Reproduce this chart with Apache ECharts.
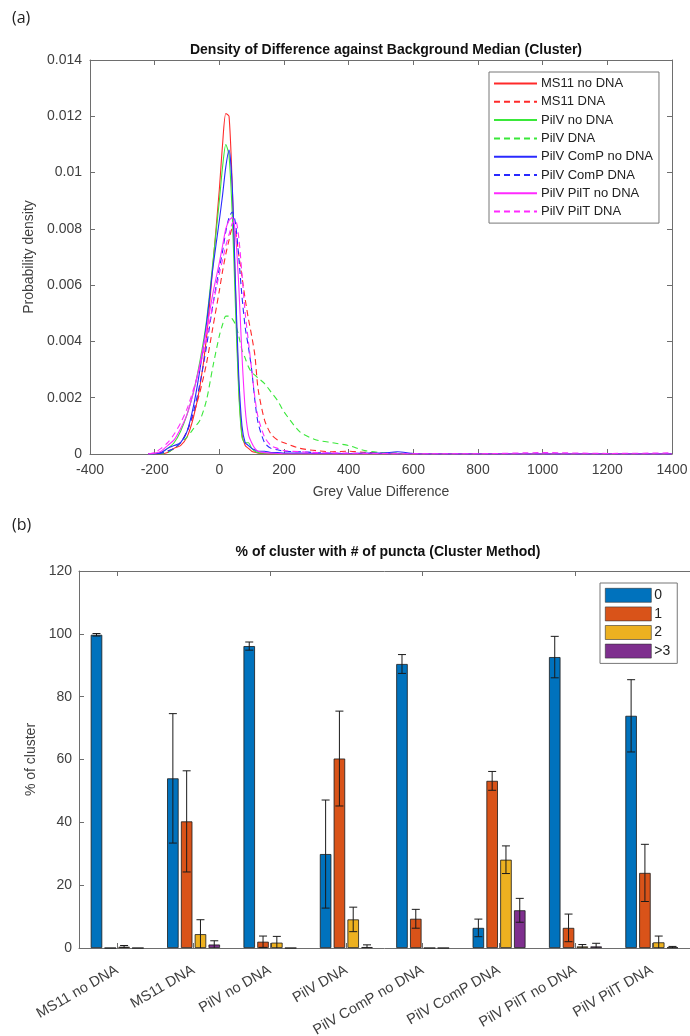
<!DOCTYPE html>
<html>
<head>
<meta charset="utf-8">
<script src="https://cdn.jsdelivr.net/npm/echarts@6/dist/echarts.min.js"></script>
<style>
html,body{margin:0;padding:0;background:#fff;}
#chart{width:690px;height:1036px;}
</style>
</head>
<body>
<div id="chart"></div>
<script>
// ---------- (a) density curves ----------
const greyValues = [-220,-200,-180,-160,-140,-120,-100,-80,-60,-40,-20,0,10,20,30,40,50,60,70,80,90,100,110,120,140,160,180,200,250,300,350,400,450,500,550,600,650,700,800,1000,1200,1400];

const ms11NoDna   = [0,0,0,0.00005,0.0002,0.0003,0.0006,0.0013,0.0024,0.0041,0.0067,0.0094,0.0110,0.0121,0.0120,0.0095,0.0058,0.0024,0.0007,0.0003,0.0002,0.0001,0.00006,0.00003,0.00001,0,0,0,0,0,0,0,0,0,0,0,0,0,0,0,0,0];
const ms11Dna     = [0,0,0.00003,0.0001,0.0002,0.0004,0.0008,0.0014,0.0022,0.0032,0.0045,0.0058,0.0065,0.0071,0.0076,0.0080,0.0079,0.0071,0.0063,0.0055,0.0048,0.0042,0.0035,0.0023,0.0012,0.0007,0.0005,0.0004,0.0002,0.00012,0.00008,0.0001,0.00006,0.00003,0.00002,0,0,0,0,0,0,0];
const pilvNoDna   = [0,0,0.00005,0.0002,0.0004,0.0008,0.0014,0.0022,0.0033,0.0047,0.0068,0.0090,0.0102,0.0110,0.0106,0.0085,0.0052,0.0022,0.0006,0.0004,0.0004,0.0002,0.0001,0.00005,0.00003,0.00002,0,0,0,0,0,0,0,0,0,0,0,0,0,0,0,0];
const pilvDna     = [0,0,0,0.00005,0.0002,0.0004,0.0006,0.0009,0.0012,0.0019,0.0031,0.0042,0.0046,0.0049,0.0049,0.0048,0.0046,0.0042,0.0037,0.0034,0.0031,0.0029,0.0028,0.0027,0.0025,0.0022,0.0019,0.0015,0.00078,0.0005,0.0004,0.0003,0.00012,0.00005,0.00003,0.00002,0,0,0,0,0,0];
const comPNoDna   = [0,0,0.00005,0.0002,0.0003,0.0004,0.0008,0.0017,0.0030,0.0046,0.0066,0.0083,0.0092,0.0102,0.0108,0.0095,0.0060,0.0028,0.0010,0.0004,0.0003,0.0002,0.00015,0.0001,0.0001,0.00005,0.00005,0.00003,0.00003,0.00002,0.00002,0.00002,0.00003,0.00003,0.00008,0.00002,0,0,0,0,0,0];
const comPDna     = [0,0,0.00003,0.0001,0.0002,0.0004,0.0008,0.0015,0.0025,0.0038,0.0053,0.0066,0.0072,0.0079,0.0084,0.0086,0.0082,0.0070,0.0056,0.0045,0.0038,0.0030,0.0019,0.0011,0.0004,0.0002,0.00015,0.0001,0.00008,0.00005,0.00003,0.00002,0.00002,0.00001,0,0,0,0,0,0,0,0];
const pilTNoDna   = [0,0.00003,0.0001,0.0003,0.0005,0.0009,0.0014,0.0022,0.0032,0.0044,0.0057,0.0068,0.0074,0.0080,0.0083,0.0084,0.0078,0.0060,0.0035,0.0016,0.0007,0.0004,0.0002,0.0001,0.00005,0.00003,0.00002,0,0,0,0,0,0,0,0,0,0,0,0,0,0,0];
const pilTDna     = [0,0.00005,0.0002,0.0004,0.0007,0.0011,0.0016,0.0023,0.0031,0.0041,0.0053,0.0064,0.0069,0.0074,0.0078,0.0082,0.0083,0.0077,0.0064,0.0050,0.0040,0.0030,0.0020,0.0013,0.0006,0.0003,0.0002,0.00012,0.00008,0.00005,0.00004,0.00003,0.00002,0.00002,0.00001,0.00001,0.00001,0.00001,0.00001,0.00005,0.00002,0.00004];

const densityNames = ['MS11 no DNA','MS11 DNA','PilV no DNA','PilV DNA','PilV ComP no DNA','PilV ComP DNA','PilV PilT no DNA','PilV PilT DNA'];
const densityData  = [ms11NoDna, ms11Dna, pilvNoDna, pilvDna, comPNoDna, comPDna, pilTNoDna, pilTDna];
const densityColors = ['#ff2a2a','#ff2a2a','#3ae83a','#3ae83a','#2a2aff','#2a2aff','#ff2aff','#ff2aff'];
const densityDashed = [false,true,false,true,false,true,false,true];

// ---------- (b) bar chart ----------
const categories = ['MS11 no DNA','MS11 DNA','PilV no DNA','PilV DNA','PilV ComP no DNA','PilV ComP DNA','PilV PilT no DNA','PilV PilT DNA'];
const punctaNames = ['0','1','2','>3'];
const puncta0 = [99.7, 54.0, 96.1, 29.9, 90.4, 6.4, 92.6, 73.9];
const puncta1 = [0, 40.3, 2.0, 60.3, 9.3, 53.2, 6.4, 23.9];
const puncta2 = [0.4, 4.4, 1.7, 9.1, 0, 28.1, 0.5, 1.8];
const puncta3 = [0, 1.1, 0, 0.3, 0, 12.0, 0.5, 0.2];
const err0 = [0.4, 20.6, 1.3, 17.2, 3.0, 2.8, 6.6, 11.5];
const err1 = [0, 16.1, 1.8, 15.1, 3.0, 3.0, 4.4, 9.1];
const err2 = [0.4, 4.6, 2.0, 3.9, 0, 4.4, 0.6, 2.0];
const err3 = [0, 1.2, 0, 0.7, 0, 3.8, 1.0, 0.3];
const barColors = ['#0072BD','#D95319','#EDB120','#7E2F8E'];

const punctaVals = [puncta0, puncta1, puncta2, puncta3];
const punctaErrs = [err0, err1, err2, err3];

const FONT = 'Liberation Sans, Arial, sans-serif';
const AX = '#6e6e6e';
const TXT = '#404040';
const BAR_W = 11.5, BAR_GAP = 2.3;

const chart = echarts.init(document.getElementById('chart'), null, {renderer:'canvas'});

const lineSeries = densityNames.map((n, i) => ({
  name: n, type: 'line', xAxisIndex: 0, yAxisIndex: 0,
  data: greyValues.map((x, j) => [x, densityData[i][j]]),
  symbol: 'none', smooth: 0.25,
  lineStyle: {color: densityColors[i], width: 1.1, type: densityDashed[i] ? [6, 4] : 'solid'},
  itemStyle: {color: densityColors[i]},
  z: 3
}));

const barSeries = punctaNames.map((n, k) => ({
  name: n, type: 'bar', xAxisIndex: 2, yAxisIndex: 2,
  data: punctaVals[k],
  barWidth: BAR_W, barGap: (BAR_GAP / BAR_W * 100) + '%',
  itemStyle: {color: barColors[k], borderColor: '#1a1a1a', borderWidth: 0.8},
  z: 2
}));

const errData = [];
punctaVals.forEach((vals, k) => {
  vals.forEach((v, i) => {
    const e = punctaErrs[k][i];
    if (e > 0) errData.push([i, v - e, v + e, k]);
  });
});

const errSeries = {
  type: 'custom', xAxisIndex: 2, yAxisIndex: 2, z: 5, clip: true,
  data: errData,
  renderItem: function (params, api) {
    const ci = api.value(0), lo = api.value(1), hi = api.value(2), k = api.value(3);
    const pLo = api.coord([ci, Math.max(lo, 0)]);
    const pHi = api.coord([ci, hi]);
    const x = pLo[0] + (k - 1.5) * (BAR_W + BAR_GAP);
    const cap = 4;
    const st = {stroke: '#1a1a1a', lineWidth: 1};
    const children = [
      {type: 'line', shape: {x1: x, y1: pLo[1], x2: x, y2: pHi[1]}, style: st},
      {type: 'line', shape: {x1: x - cap, y1: pHi[1], x2: x + cap, y2: pHi[1]}, style: st}
    ];
    if (lo >= 0) children.push({type: 'line', shape: {x1: x - cap, y1: pLo[1], x2: x + cap, y2: pLo[1]}, style: st});
    return {type: 'group', children: children};
  }
};

const tickCommon = {show: true, inside: true, length: 5, lineStyle: {color: AX}};
const labelCommon = {color: TXT, fontFamily: FONT, fontSize: 14};
const lineCommon = {show: true, onZero: false, lineStyle: {color: AX}};
const plainNum = v => String(v);

const option = {
  backgroundColor: '#fff',
  animation: false,
  title: [
    {text: '(a)', left: 7, top: 5, textStyle: {fontFamily: 'Open Sans, sans-serif', fontSize: 16, fontWeight: 'normal', color: '#222'}},
    {text: 'Density of Difference against Background Median (Cluster)', left: 381, top: 38, textAlign: 'center',
      textStyle: {fontFamily: FONT, fontSize: 14, fontWeight: 'bold', color: '#111'}},
    {text: '(b)', left: 7, top: 512, textStyle: {fontFamily: 'Open Sans, sans-serif', fontSize: 16, fontWeight: 'normal', color: '#222'}},
    {text: '% of cluster with # of puncta (Cluster Method)', left: 383, top: 540, textAlign: 'center',
      textStyle: {fontFamily: FONT, fontSize: 14, fontWeight: 'bold', color: '#111'}}
  ],
  legend: [
    {
      data: densityNames, orient: 'vertical', left: 489, top: 72,
      itemWidth: 43, itemHeight: 14, itemGap: 5.3,
      padding: [5, 6, 5, 4],
      borderColor: '#777', borderWidth: 1, backgroundColor: '#fff',
      textStyle: {fontFamily: FONT, fontSize: 13, color: '#222', padding: [0, 0, 0, -1]},
      itemStyle: {opacity: 0},
      selectedMode: false
    },
    {
      data: punctaNames, orient: 'vertical', left: 600, top: 583,
      itemWidth: 46, itemHeight: 14, itemGap: 4,
      padding: [5, 7, 5, 5],
      icon: 'rect',
      borderColor: '#777', borderWidth: 1, backgroundColor: '#fff',
      itemStyle: {borderWidth: 0.6, borderColor: '#333'},
      textStyle: {fontFamily: FONT, fontSize: 14, color: '#222', padding: [0, 0, 0, -2]},
      selectedMode: false
    }
  ],
  grid: [
    {left: 90, right: 18, top: 60, height: 394, outerBoundsMode: 'none', containLabel: false},
    {left: 79, right: 0, top: 571, height: 377, outerBoundsMode: 'none', containLabel: false}
  ],
  xAxis: [
    {type: 'value', gridIndex: 0, min: -400, max: 1400, interval: 200, position: 'bottom',
      name: 'Grey Value Difference', nameLocation: 'middle', nameGap: 31,
      nameTextStyle: {fontFamily: FONT, fontSize: 14, color: TXT},
      axisLine: lineCommon, axisTick: tickCommon,
      axisLabel: Object.assign({margin: 9, formatter: plainNum}, labelCommon), splitLine: {show: false}},
    {type: 'value', gridIndex: 0, min: -400, max: 1400, interval: 200, position: 'top',
      axisLine: lineCommon, axisTick: tickCommon,
      axisLabel: {show: false}, splitLine: {show: false}},
    {type: 'category', gridIndex: 1, data: categories, position: 'bottom',
      axisLine: lineCommon,
      axisTick: Object.assign({alignWithLabel: true}, tickCommon),
      axisLabel: Object.assign({}, labelCommon, {rotate: 30, margin: 21, interval: 0, fontSize: 14.5}),
      splitLine: {show: false}},
    {type: 'category', gridIndex: 1, data: categories, position: 'top',
      axisLine: lineCommon,
      axisTick: Object.assign({alignWithLabel: true}, tickCommon),
      axisLabel: {show: false}, splitLine: {show: false}}
  ],
  yAxis: [
    {type: 'value', gridIndex: 0, min: 0, max: 0.014, interval: 0.002, position: 'left',
      name: 'Probability density', nameLocation: 'middle', nameGap: 48,
      nameTextStyle: {fontFamily: FONT, fontSize: 14, color: TXT},
      axisLine: lineCommon, axisTick: tickCommon,
      axisLabel: Object.assign({margin: 8}, labelCommon), splitLine: {show: false}},
    {type: 'value', gridIndex: 0, min: 0, max: 0.014, interval: 0.002, position: 'right',
      axisLine: lineCommon, axisTick: tickCommon,
      axisLabel: {show: false}, splitLine: {show: false}},
    {type: 'value', gridIndex: 1, min: 0, max: 120, interval: 20, position: 'left',
      name: '% of cluster', nameLocation: 'middle', nameGap: 38,
      nameTextStyle: {fontFamily: FONT, fontSize: 14, color: TXT},
      axisLine: lineCommon, axisTick: tickCommon,
      axisLabel: Object.assign({margin: 7}, labelCommon), splitLine: {show: false}},
    {type: 'value', gridIndex: 1, min: 0, max: 120, interval: 20, position: 'right',
      axisLine: {show: false}, axisTick: {show: false},
      axisLabel: {show: false}, splitLine: {show: false}}
  ],
  series: lineSeries.concat(barSeries).concat([errSeries])
};

chart.setOption(option);
</script>
</body>
</html>
